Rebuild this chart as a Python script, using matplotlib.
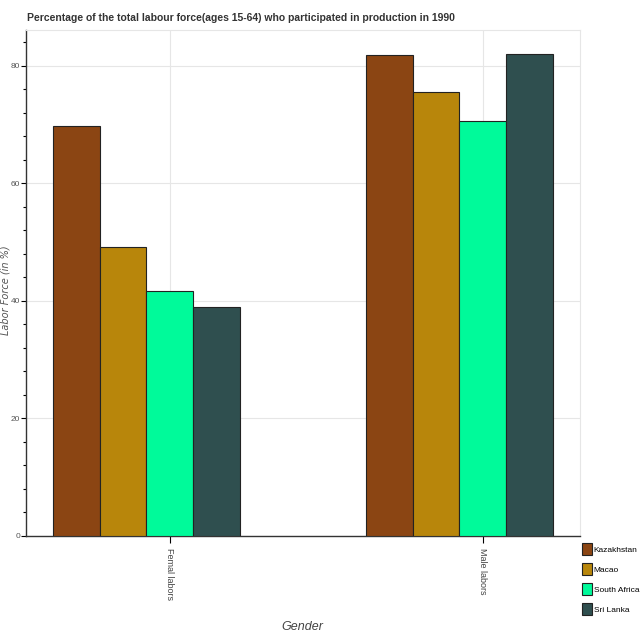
import matplotlib
matplotlib.use("Agg")
import matplotlib.pyplot as plt
import numpy as np
from matplotlib.patches import Patch
from matplotlib.ticker import MultipleLocator

genders = ["Femal labors", "Male labors"]
countries = ["Kazakhstan", "Macao", "South Africa", "Sri Lanka"]
kazakhstan = [69.8, 81.9]
macao = [49.1, 75.6]
south_africa = [41.7, 70.6]
sri_lanka = [38.9, 82.1]
colors = ["#8B4513", "#B8860B", "#00FA9A", "#2F4F4F"]

sans = ["Liberation Sans", "DejaVu Sans"]

fig = plt.figure(figsize=(6.4, 6.4), dpi=100)
ax = fig.add_axes([0.0406, 0.1625, 0.8656, 0.7906])

x = np.arange(len(genders))
width = 0.15
offsets = [-0.30, -0.15, 0.0, 0.15]
series = [kazakhstan, macao, south_africa, sri_lanka]
for vals, off, c in zip(series, offsets, colors):
    ax.bar(x + off, vals, width, color=c, edgecolor="#222222", linewidth=0.8, zorder=3)

ax.set_xlim(-0.46, 1.31)
ax.set_ylim(0, 86.1)
ax.set_xticks(x)
ax.set_xticklabels(genders, rotation=-90, fontsize=6.5, color="#444444", family=sans)
ax.yaxis.set_major_locator(MultipleLocator(20))
ax.yaxis.set_minor_locator(MultipleLocator(4))
for lab in ax.get_yticklabels():
    lab.set_family(sans)
ax.tick_params(axis="y", labelsize=6, labelcolor="#555555", length=3.5, width=0.8, pad=0.5)
ax.tick_params(axis="y", which="minor", length=2, width=0.8)
ax.tick_params(axis="x", length=5, width=0.8, pad=4)

ax.grid(True, color="#e6e6e6", linewidth=0.8, zorder=0)
for s in ["top", "right"]:
    ax.spines[s].set_color("#e6e6e6")
for s in ["left", "bottom"]:
    ax.spines[s].set_color("#333333")
    ax.spines[s].set_linewidth(1.0)

fig.text(0.008, 0.547, "Labor Force (in %)", fontsize=7, style="italic", color="#555555",
         rotation=90, ha="center", va="center")
fig.text(0.473, 0.02, "Gender", fontsize=9, style="italic", color="#444444",
         ha="center", va="center", family=sans)
fig.text(0.042, 0.972, "Percentage of the total labour force(ages 15-64) who participated in production in 1990",
         fontsize=7.5, fontweight="bold", color="#333333", ha="left", va="center", family=sans)

handles = [Patch(facecolor=c, edgecolor="#222222", linewidth=0.8) for c in colors]
fig.legend(handles, countries, loc="upper left", bbox_to_anchor=(0.909, 0.1516),
           frameon=False, handlelength=1.2, handleheight=1.8,
           handletextpad=0.25, labelspacing=1.0, borderaxespad=0, borderpad=0,
           prop={"family": sans, "size": 6})

fig.savefig("out.png", dpi=100)
